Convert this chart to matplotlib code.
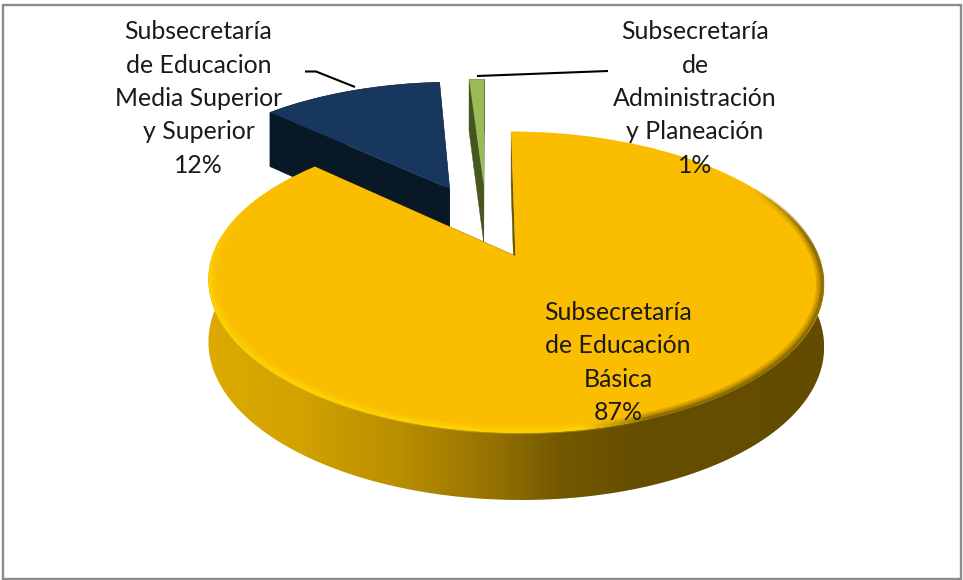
import numpy as np
import matplotlib
matplotlib.use("Agg")
import matplotlib.pyplot as plt
from matplotlib.transforms import Transform
from matplotlib.patches import Polygon, Rectangle
from matplotlib.path import Path
from matplotlib.collections import LineCollection
from matplotlib.colors import LinearSegmentedColormap

categories = ["Subsecretaría\nde Educación\nBásica",
              "Subsecretaría\nde Educacion\nMedia Superior\ny Superior",
              "Subsecretaría\nde\nAdministración\ny Planeación"]
values = [87, 12, 1]
top_colors = ["#fabd00", "#17375e", "#9bbb59"]
side_colors = ["#6a5100", "#081826", "#46561f"]
explode = [0.24, 0.31, 0.31]

CX, CY, RX, RY, K = 486.5, 225.0, 292.0, 135.5, 0.167


class Perspective(Transform):
    input_dims = 2
    output_dims = 2
    is_separable = False
    has_inverse = False

    def transform_non_affine(self, xy):
        xy = np.asarray(xy, float)
        w = 1 + K * xy[:, 1]
        return np.column_stack([CX + RX * xy[:, 0] / w, CY - RY * xy[:, 1] / w])


persp = Perspective()


def depth(v):
    return 60 - 6 * v


def rim(center, theta, r=1.0):
    t = np.radians(theta)
    uv = np.column_stack([center[0] + r * np.cos(t), center[1] + r * np.sin(t)])
    top = persp.transform_non_affine(uv)
    low = top + np.column_stack([np.zeros(len(t)), depth(uv[:, 1])])
    return top, low


fig = plt.figure(figsize=(9.63, 5.8), dpi=100)
ax = fig.add_axes([0, 0, 1, 1])
wedges, _ = ax.pie(values, explode=explode, startangle=90, counterclock=False,
                   colors=top_colors, radius=1.0,
                   wedgeprops=dict(linewidth=0))
ax.set_aspect("auto")

for w in wedges:
    w.set_transform(persp + ax.transData)
    w.set_zorder(4)

# extruded faces: back slices first; the big slice's outer wall is the gradient below
for i, (w, col, zo) in enumerate(zip(wedges, side_colors, [2, 1, 1.5])):
    th = np.linspace(w.theta1, w.theta2, 200)
    top, low = rim(w.center, th)
    if i > 0:
        ax.add_patch(Polygon(np.vstack([top, low[::-1]]), closed=True, fc=col, ec=col, lw=0.3, zorder=zo))
    apex_top = persp.transform_non_affine(np.array([w.center]))
    apex_low = apex_top + [0, depth(w.center[1])]
    for end in (0, -1):
        ax.add_patch(Polygon(np.vstack([top[end], low[end], apex_low, apex_top]), closed=True,
                             fc=col, ec=col, lw=0.3, zorder=zo))

# gradient on the outer wall of the big slice
yw = wedges[0]
th = np.linspace(max(yw.theta1, -192), min(yw.theta2, 8), 300)
top, low = rim(yw.center, th)
wall = Path(np.vstack([top, low[::-1], top[:1]]), closed=True)
stops = [(0.0, "#dcaa00"), (0.15, "#d2a200"), (0.31, "#b98e00"), (0.46, "#957200"),
         (0.57, "#745900"), (0.70, "#664e00"), (1.0, "#634c00")]
cmap = LinearSegmentedColormap.from_list("wall", stops)
im = ax.imshow(np.linspace(0, 1, 616)[None, :], extent=(208, 824, 520, 240), cmap=cmap,
               aspect="auto", zorder=2.5, interpolation="bilinear")
im.set_clip_path(wall, ax.transData)

# soft bevel along the edge of the top face
theta = np.linspace(-200, 30, 600)
for r, lw, a in [(0.988, 6.0, 0.22), (0.991, 4.0, 0.30), (0.994, 2.2, 0.55)]:
    pts, _low = rim(yw.center, theta, r)
    segs = np.stack([pts[:-1], pts[1:]], axis=1)
    x = pts[:-1, 0]
    th_mid = theta[:-1]
    mix = np.clip((x - 580) / 70, 0, 1)[:, None]
    rgb = (1 - mix) * np.array([1.0, 0.85, 0.0]) + mix * np.array([0.42, 0.32, 0.0])
    fade = np.clip((th_mid + 200) / 30, 0, 1) * np.clip((30 - th_mid) / 25, 0, 1)
    rgba = np.column_stack([rgb, a * fade])
    ax.add_collection(LineCollection(segs, colors=rgba, linewidths=lw, zorder=5, capstyle="butt"))

ax.set_xlim(0, 963)
ax.set_ylim(580, 0)
ax.set_axis_off()

# leader lines
ax.plot([305, 316, 355], [71.5, 71.5, 87], color="black", lw=1.5, zorder=6, solid_capstyle="butt")
ax.plot([477, 608], [76, 71], color="black", lw=1.5, zorder=6, solid_capstyle="butt")

# labels
label_pos = [(618, 362.5), (198.5, 98.5), (695, 98.5)]
for cat, val, (x, y) in zip(categories, values, label_pos):
    ax.text(x, y, f"{cat}\n{val}%", ha="center", va="center", fontsize=17.9,
            family="Lato", color="#1a1a1a", linespacing=1.54, zorder=7)

# outer frame
ax.add_patch(Rectangle((3.2, 4.5), 958, 574.5, fill=False, ec="#8c8c8c", lw=1.7, zorder=8))

fig.savefig("out.png", dpi=100)
